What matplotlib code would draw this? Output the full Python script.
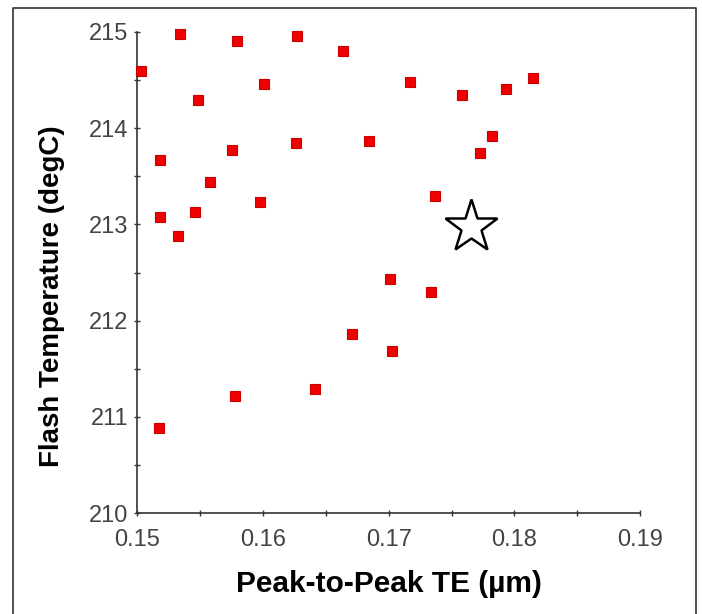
import matplotlib
matplotlib.use('Agg')
import matplotlib.pyplot as plt
from matplotlib.lines import Line2D
from matplotlib.ticker import MultipleLocator

# measured runs: peak-to-peak TE (um) vs flash temperature (degC)
te = [0.1503, 0.1534, 0.1579, 0.1627, 0.1664, 0.1548, 0.1601, 0.1717,
      0.1758, 0.1793, 0.1815, 0.1518, 0.1575, 0.1626, 0.1684, 0.1782,
      0.1773, 0.1558, 0.1518, 0.1546, 0.1532, 0.1598, 0.1737, 0.1701,
      0.1734, 0.1671, 0.1703, 0.1641, 0.1578, 0.1517]
temp = [214.59, 214.98, 214.91, 214.96, 214.80, 214.29, 214.46, 214.48,
        214.35, 214.41, 214.52, 213.67, 213.77, 213.85, 213.87, 213.92,
        213.74, 213.44, 213.08, 213.13, 212.88, 213.23, 213.30, 212.43,
        212.30, 211.86, 211.68, 211.29, 211.22, 210.88]

# optimum (star)
opt_te = [0.17655]
opt_temp = [212.975]

plt.rcParams['font.family'] = ['Liberation Sans', 'DejaVu Sans']

fig = plt.figure(figsize=(7.02, 6.14), dpi=100)
W, H = 702, 614
ax = fig.add_axes([137.3 / W, 1 - 513 / H, 502.8 / W, 481 / H])

ax.plot(te, temp, ls='none', marker='s', ms=7.2, mfc='#f00000',
        mec='#c80000', mew=0.8, clip_on=False, zorder=3)
ax.plot(opt_te, opt_temp, ls='none', marker='*', ms=40, mfc='white',
        mec='black', mew=1.8, clip_on=False, zorder=4)

ax.set_xlim(0.15, 0.19)
ax.set_ylim(210, 215)
ax.xaxis.set_major_locator(MultipleLocator(0.01))
ax.xaxis.set_minor_locator(MultipleLocator(0.005))
ax.yaxis.set_major_locator(MultipleLocator(1))
ax.yaxis.set_minor_locator(MultipleLocator(0.5))
ax.xaxis.set_major_formatter(lambda v, p: f'{v:.2f}')
ax.yaxis.set_major_formatter(lambda v, p: f'{v:.0f}')

for s in ['top', 'right']:
    ax.spines[s].set_visible(False)
for s in ['left', 'bottom']:
    ax.spines[s].set_color('#333333')
    ax.spines[s].set_linewidth(1.2)

ax.tick_params(which='both', direction='inout', length=5, width=1,
               color='#333333')
ax.tick_params(axis='x', which='major', pad=9, labelsize=17, labelcolor='#444444')
ax.tick_params(axis='y', which='major', pad=4, labelsize=17, labelcolor='#444444')

ax.set_xlabel('Peak-to-Peak TE (\u00b5m)', fontsize=21.5, fontweight='bold',
              va='top')
ax.xaxis.set_label_coords(0.5, -0.118)
ax.set_ylabel('Flash Temperature (degC)', fontsize=20, fontweight='bold',
              va='bottom')
ax.yaxis.set_label_coords(-0.1438, 0.451)

# frame around the whole picture (left, top, right)
fx = [12.5 / W, 12.5 / W, 696 / W, 696 / W]
fy = [0, 1 - 8 / H, 1 - 8 / H, 0]
fig.add_artist(Line2D(fx, fy, transform=fig.transFigure, color='#333333', lw=1.2))

plt.savefig('out.png', dpi=100)
